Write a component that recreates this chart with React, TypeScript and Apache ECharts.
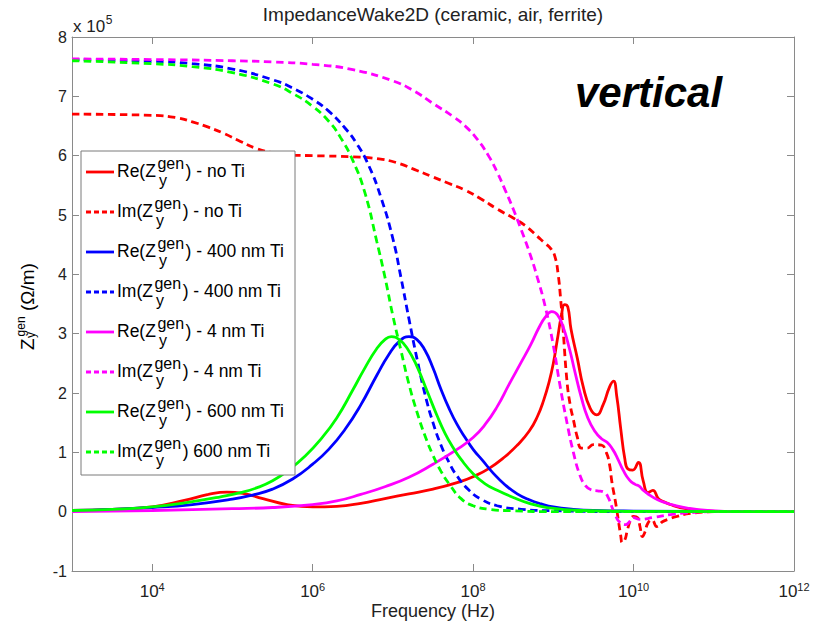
import React, { useEffect, useRef } from 'react';
import * as echarts from 'echarts';

const FONT = '"Liberation Sans", Arial, Helvetica, sans-serif';

// x values are log10(frequency / Hz); y values are in units of 1e5 Ohm/m
const xTickExponents = [4, 6, 8, 10, 12];

const reNoTi: number[][] = [
  [3.0, 0.02], [3.5, 0.04], [4.0, 0.08], [4.4, 0.19], [4.7, 0.29], [4.93, 0.33], [5.13, 0.31], [5.38, 0.22],
  [5.68, 0.12], [6.0, 0.08], [6.3, 0.09], [6.6, 0.14], [6.9, 0.22], [7.2, 0.3], [7.5, 0.38], [7.8, 0.49],
  [8.0, 0.59], [8.2, 0.73], [8.4, 0.93], [8.55, 1.12], [8.7, 1.36], [8.8, 1.6], [8.88, 1.88], [8.95, 2.2],
  [9.0, 2.5], [9.05, 2.9], [9.1, 3.3], [9.14, 3.49], [9.18, 3.45], [9.22, 3.08], [9.3, 2.58], [9.37, 2.12],
  [9.46, 1.74], [9.54, 1.63], [9.62, 1.8], [9.7, 2.1], [9.75, 2.2], [9.79, 1.95], [9.84, 1.4], [9.89, 0.9],
  [9.93, 0.72], [9.99, 0.7], [10.06, 0.83], [10.12, 0.52], [10.18, 0.32], [10.24, 0.36], [10.31, 0.22],
  [10.37, 0.17], [10.46, 0.12], [10.58, 0.07], [10.83, 0.02], [11.2, 0], [12, 0],
];

const imNoTi: number[][] = [
  [3.0, 6.7], [4.0, 6.68], [4.3, 6.64], [4.5, 6.57], [4.7, 6.48], [4.9, 6.37], [5.1, 6.24], [5.3, 6.12],
  [5.5, 6.05], [5.7, 6.01], [6.0, 6.0], [6.5, 5.98], [6.8, 5.95], [7.05, 5.88], [7.3, 5.75], [7.5, 5.64],
  [7.7, 5.53], [7.9, 5.42], [8.1, 5.27], [8.3, 5.1], [8.5, 4.95], [8.65, 4.82], [8.8, 4.64], [8.9, 4.52],
  [8.97, 4.43], [9.02, 4.3], [9.06, 4.0], [9.09, 3.6], [9.12, 3.1], [9.17, 2.2], [9.21, 1.8], [9.25, 1.55],
  [9.3, 1.25], [9.35, 1.07], [9.42, 1.07], [9.5, 1.13], [9.6, 1.12], [9.66, 1.0], [9.7, 0.8], [9.73, 0.5],
  [9.77, 0.2], [9.8, -0.05], [9.84, -0.4], [9.86, -0.52], [9.89, -0.48], [9.92, -0.33], [9.96, -0.15],
  [10.0, -0.08], [10.05, -0.1], [10.08, -0.25], [10.11, -0.42], [10.14, -0.35], [10.18, -0.19], [10.23, -0.14],
  [10.29, -0.25], [10.36, -0.17], [10.43, -0.13], [10.54, -0.08], [10.71, -0.03], [11.04, 0], [12, 0],
];

const reTi400: number[][] = [
  [3.0, 0.02], [3.5, 0.04], [4.0, 0.07], [4.5, 0.12], [5.0, 0.21], [5.25, 0.28], [5.5, 0.38], [5.75, 0.55],
  [6.0, 0.8], [6.2, 1.05], [6.4, 1.38], [6.6, 1.8], [6.8, 2.3], [6.95, 2.65], [7.08, 2.87], [7.2, 2.95],
  [7.3, 2.9], [7.4, 2.72], [7.5, 2.42], [7.6, 2.06], [7.7, 1.74], [7.8, 1.47], [7.9, 1.25], [8.0, 1.05],
  [8.12, 0.86], [8.25, 0.65], [8.4, 0.45], [8.55, 0.3], [8.7, 0.2], [8.85, 0.13], [9.0, 0.08], [9.25, 0.04],
  [9.5, 0.02], [10, 0.01], [12, 0],
];

const imTi400: number[][] = [
  [3.0, 7.62], [4.0, 7.59], [4.5, 7.55], [5.0, 7.46], [5.5, 7.28], [5.75, 7.14], [6.0, 6.95], [6.2, 6.75],
  [6.4, 6.47], [6.55, 6.2], [6.7, 5.83], [6.85, 5.3], [7.0, 4.6], [7.1, 3.95], [7.2, 3.25], [7.3, 2.58],
  [7.4, 1.98], [7.5, 1.5], [7.6, 1.12], [7.7, 0.83], [7.8, 0.6], [7.95, 0.36], [8.1, 0.21], [8.3, 0.1],
  [8.6, 0.04], [9.0, 0.015], [10, 0], [12, 0],
];

const reTi4: number[][] = [
  [3.0, 0.0], [4.0, 0.02], [5.0, 0.05], [5.5, 0.07], [6.0, 0.12], [6.3, 0.18], [6.6, 0.29], [6.9, 0.42],
  [7.2, 0.58], [7.5, 0.8], [7.8, 1.05], [8.0, 1.25], [8.15, 1.47], [8.3, 1.77], [8.45, 2.15], [8.6, 2.52],
  [8.72, 2.82], [8.82, 3.1], [8.9, 3.28], [8.98, 3.37], [9.05, 3.32], [9.12, 3.12], [9.2, 2.75], [9.27, 2.35],
  [9.35, 1.92], [9.43, 1.58], [9.52, 1.35], [9.6, 1.23], [9.67, 1.17], [9.74, 1.05], [9.8, 0.9], [9.87, 0.7],
  [9.95, 0.53], [10.02, 0.46], [10.07, 0.43], [10.12, 0.36], [10.2, 0.28], [10.3, 0.2], [10.4, 0.15],
  [10.5, 0.11], [10.67, 0.06], [10.92, 0.02], [11.3, 0], [12, 0],
];

const imTi4: number[][] = [
  [3.0, 7.63], [4.0, 7.62], [5.0, 7.6], [5.5, 7.58], [6.0, 7.54], [6.5, 7.45], [7.0, 7.26], [7.25, 7.1],
  [7.5, 6.88], [7.75, 6.66], [7.9, 6.5], [8.05, 6.28], [8.2, 5.98], [8.3, 5.72], [8.4, 5.42], [8.5, 5.1],
  [8.6, 4.75], [8.7, 4.38], [8.8, 3.95], [8.9, 3.45], [9.0, 2.8], [9.08, 2.15], [9.17, 1.5], [9.25, 1.0],
  [9.33, 0.62], [9.4, 0.44], [9.47, 0.37], [9.55, 0.35], [9.63, 0.33], [9.68, 0.25], [9.73, 0.08], [9.78, -0.08],
  [9.83, -0.18], [9.9, -0.22], [9.95, -0.17], [10.0, -0.1], [10.08, -0.13], [10.24, -0.1], [10.46, -0.05],
  [10.67, -0.02], [11, 0], [12, 0],
];

const reTi600: number[][] = [
  [3.0, 0.02], [3.5, 0.04], [4.0, 0.08], [4.5, 0.17], [4.85, 0.25], [5.1, 0.32], [5.3, 0.4], [5.5, 0.52],
  [5.7, 0.7], [5.9, 0.93], [6.1, 1.22], [6.3, 1.58], [6.5, 2.05], [6.65, 2.42], [6.8, 2.75], [6.9, 2.9],
  [6.98, 2.95], [7.08, 2.9], [7.18, 2.75], [7.3, 2.45], [7.43, 2.02], [7.55, 1.62], [7.65, 1.32], [7.75, 1.08],
  [7.85, 0.88], [8.0, 0.64], [8.15, 0.47], [8.3, 0.36], [8.5, 0.24], [8.7, 0.14], [8.92, 0.07], [9.33, 0.02],
  [10, 0.005], [12, 0],
];

const imTi600: number[][] = [
  [3.0, 7.6], [4.0, 7.55], [4.5, 7.5], [5.0, 7.4], [5.5, 7.21], [5.75, 7.05], [6.0, 6.83], [6.2, 6.58],
  [6.35, 6.3], [6.5, 5.92], [6.65, 5.38], [6.8, 4.55], [6.9, 3.96], [7.0, 3.3], [7.1, 2.72], [7.2, 2.15],
  [7.3, 1.68], [7.4, 1.28], [7.5, 0.95], [7.6, 0.68], [7.7, 0.47], [7.85, 0.22], [8.0, 0.1], [8.2, 0.04],
  [8.5, 0.015], [9, 0], [12, 0],
];

const entries = [
  { prefix: 'Re(Z', suffix: ') - no Ti', data: reNoTi, color: '#ff0000', dashed: false },
  { prefix: 'Im(Z', suffix: ') - no Ti', data: imNoTi, color: '#ff0000', dashed: true },
  { prefix: 'Re(Z', suffix: ') - 400 nm Ti', data: reTi400, color: '#0000ff', dashed: false },
  { prefix: 'Im(Z', suffix: ') - 400 nm Ti', data: imTi400, color: '#0000ff', dashed: true },
  { prefix: 'Re(Z', suffix: ') - 4 nm Ti', data: reTi4, color: '#ff00ff', dashed: false },
  { prefix: 'Im(Z', suffix: ') - 4 nm Ti', data: imTi4, color: '#ff00ff', dashed: true },
  { prefix: 'Re(Z', suffix: ') - 600 nm Ti', data: reTi600, color: '#00ff00', dashed: false },
  { prefix: 'Im(Z', suffix: ') 600 nm Ti', data: imTi600, color: '#00ff00', dashed: true },
];

let measureCtx: CanvasRenderingContext2D | null = null;
function tw(s: string, size: number, extra = ''): number {
  if (!measureCtx) measureCtx = document.createElement('canvas').getContext('2d');
  if (!measureCtx) return s.length * size * 0.55;
  measureCtx.font = `${extra} ${size}px ${FONT}`;
  return measureCtx.measureText(s).width;
}

function txt(text: string, x: number, y: number, size: number, opts: any = {}) {
  return {
    type: 'text',
    x,
    y,
    z: 100,
    style: {
      text,
      font: `${opts.weight || ''} ${size}px ${FONT}`,
      fill: opts.fill || '#000',
      textAlign: opts.align || 'left',
      textVerticalAlign: 'middle',
    },
  };
}

export default function App() {
  const ref = useRef<HTMLDivElement>(null);

  useEffect(() => {
    if (!ref.current) return;
    const chart = echarts.init(ref.current, null, { renderer: 'svg' });

    const axisGray = '#8a8a8a';
    const textColor = '#222';

    // legend
    const legendChildren: any[] = [
      {
        type: 'rect',
        z: 100,
        shape: { x: 81, y: 151, width: 214, height: 324 },
        style: { fill: '#fff', stroke: '#7a7a7a', lineWidth: 1 },
      },
    ];
    entries.forEach((e, i) => {
      const cy = 172 + 40 * i;
      legendChildren.push({
        type: 'line',
        z: 101,
        shape: { x1: 86, y1: cy, x2: 114, y2: cy },
        style: { stroke: e.color, lineWidth: 2.8, lineDash: e.dashed ? [5, 3] : null },
      });
      const x0 = 117;
      const wPre = tw(e.prefix, 17.5);
      const xs = x0 + wPre + 1.5;
      const wGen = tw('gen', 16);
      legendChildren.push(txt(e.prefix, x0, cy - 0.8, 17.5));
      legendChildren.push(txt('gen', xs, cy - 8.6, 16));
      legendChildren.push(txt('y', xs + 1.5, cy + 8.4, 16));
      legendChildren.push(txt(e.suffix, xs + wGen + 1.5, cy - 0.8, 17.5));
    });

    // y axis name: Z^gen_y (Ω/m), rotated
    const wZ = tw('Z', 19);
    const wG = tw('gen', 12);
    const yNameGroup = {
      type: 'group',
      x: 27.5,
      y: 350,
      rotation: Math.PI / 2,
      z: 100,
      children: [
        txt('Z', 0, 0, 19),
        txt('gen', wZ + 2, -7, 12),
        txt('y', wZ + 0.5, 3, 12),
        txt(' (Ω/m)', wZ + 2 + wG, 0, 19),
      ],
    };

    const wX10 = tw('x 10', 17);

    const option: any = {
      animation: false,
      backgroundColor: '#fff',
      title: {
        text: 'ImpedanceWake2D (ceramic, air, ferrite)',
        left: 433,
        top: 5,
        padding: 0,
        textAlign: 'center',
        textStyle: { fontFamily: FONT, fontSize: 19, fontWeight: 'normal', color: textColor },
      },
      grid: { left: 72, right: 29, top: 37, bottom: 50, show: false, containLabel: false, outerBoundsMode: 'none' },
      xAxis: [
        {
          type: 'value',
          min: 3,
          max: 12,
          position: 'bottom',
          name: 'Frequency (Hz)',
          nameLocation: 'middle',
          nameGap: 30.5,
          nameMoveOverlap: false,
          nameTextStyle: { fontFamily: FONT, fontSize: 18, color: textColor },
          axisLine: { show: true, onZero: false, lineStyle: { color: axisGray, width: 1 } },
          axisTick: { show: true, inside: true, length: 7, customValues: xTickExponents, lineStyle: { color: axisGray } },
          axisLabel: {
            show: true,
            margin: 10.5,
            customValues: xTickExponents,
            formatter: (v: number) => `{b|10}{e|${v}}`,
            rich: {
              b: { fontFamily: FONT, fontSize: 17, lineHeight: 20, color: textColor },
              e: { fontFamily: FONT, fontSize: 11, lineHeight: 11, verticalAlign: 'top', color: textColor },
            },
          },
          splitLine: { show: false },
        },
        {
          type: 'value',
          min: 3,
          max: 12,
          position: 'top',
          axisLine: { show: true, onZero: false, lineStyle: { color: axisGray, width: 1 } },
          axisTick: { show: true, inside: true, length: 7, customValues: xTickExponents, lineStyle: { color: axisGray } },
          axisLabel: { show: false },
          splitLine: { show: false },
        },
      ],
      yAxis: [
        {
          type: 'value',
          min: -1,
          max: 8,
          interval: 1,
          position: 'left',
          axisLine: { show: true, onZero: false, lineStyle: { color: axisGray, width: 1 } },
          axisTick: { show: true, inside: true, length: 7, lineStyle: { color: axisGray } },
          axisLabel: { show: true, margin: 5, fontFamily: FONT, fontSize: 16, color: textColor },
          splitLine: { show: false },
        },
        {
          type: 'value',
          min: -1,
          max: 8,
          interval: 1,
          position: 'right',
          axisLine: { show: true, onZero: false, lineStyle: { color: axisGray, width: 1 } },
          axisTick: { show: true, inside: true, length: 7, lineStyle: { color: axisGray } },
          axisLabel: { show: false },
          splitLine: { show: false },
        },
      ],
      series: entries.map((e) => ({
        type: 'line',
        name: (e.prefix + 'gen_y' + e.suffix),
        data: e.data,
        xAxisIndex: 0,
        yAxisIndex: 0,
        showSymbol: false,
        symbol: 'none',
        smooth: 0.5,
        lineStyle: { color: e.color, width: 2.8, type: e.dashed ? [7.5, 4.5] : 'solid', cap: 'butt' },
        itemStyle: { color: e.color },
        emphasis: { disabled: true },
        silent: true,
      })),
      graphic: [
        { type: 'group', z: 100, children: legendChildren },
        yNameGroup,
        txt('x 10', 73, 26.5, 17, { fill: textColor }),
        txt('5', 73 + wX10 + 0.5, 19.5, 12, { fill: textColor }),
        txt('vertical', 575, 92, 42, { weight: 'italic bold' }),
      ],
    };

    chart.setOption(option);
    return () => chart.dispose();
  }, []);

  return <div ref={ref} style={{ position: 'fixed', left: 0, top: 0, width: 823, height: 621 }} />;
}
